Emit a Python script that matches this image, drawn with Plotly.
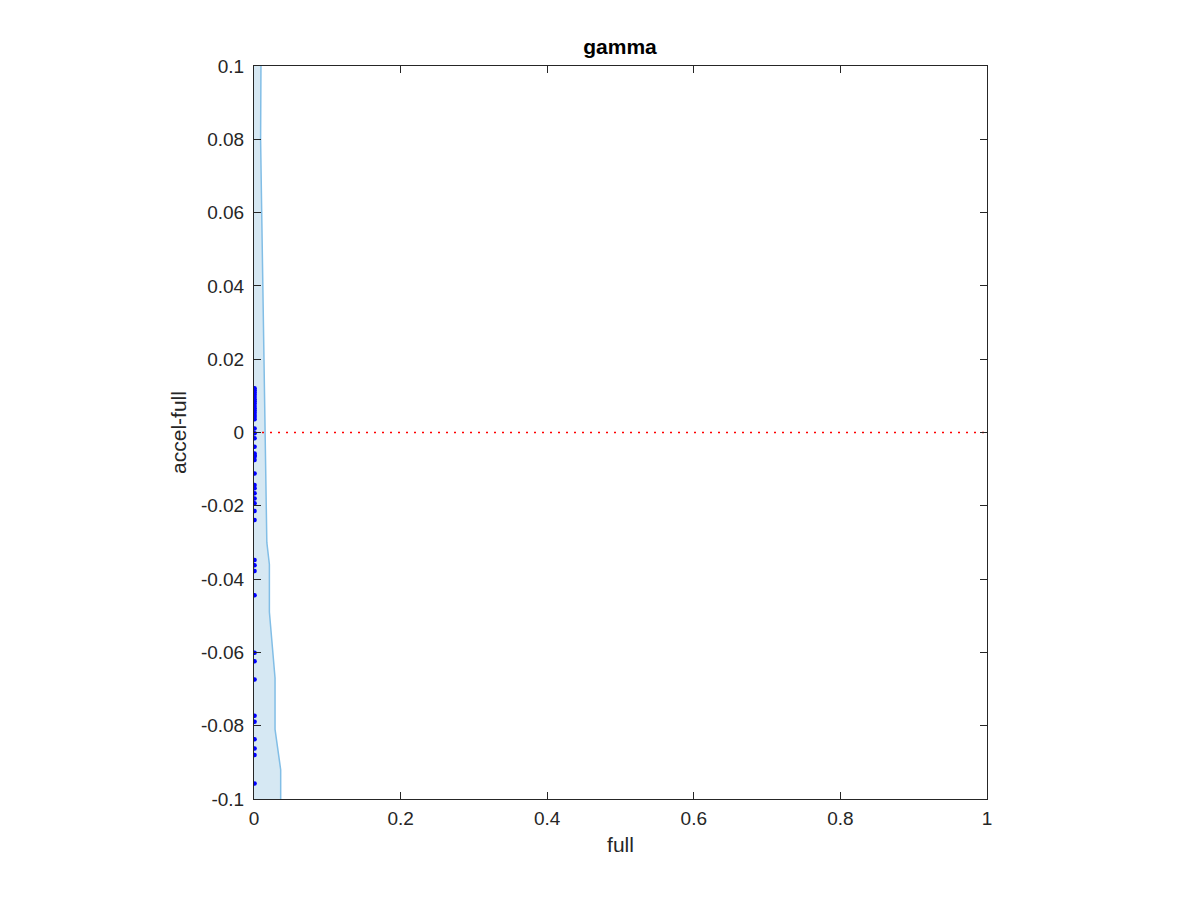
import plotly.graph_objects as go

# Shaded envelope boundary (x extent at given y)
env_y = [0.1, 0.08, 0.06, 0.04, 0.02, 0.0, -0.03, -0.036, -0.049, -0.067, -0.081, -0.092, -0.1]
env_x = [0.0095, 0.009, 0.0105, 0.012, 0.014, 0.016, 0.0175, 0.021, 0.021, 0.0287, 0.0287, 0.0364, 0.0364]

# Scatter points (full, accel-full)
pts_y = [0.0121, 0.0115, 0.0109, 0.0103, 0.0097, 0.0091, 0.0085, 0.0079, 0.0072, 0.0066,
         0.0060, 0.0054, 0.0048, 0.0042, 0.0036, 0.0011, -0.0002, -0.0016, -0.0039, -0.0057,
         -0.0062, -0.0066, -0.0075, -0.0112, -0.0143, -0.0152, -0.0166, -0.018, -0.0193,
         -0.0214, -0.0239, -0.0348, -0.0362, -0.0378, -0.0444, -0.0601, -0.0624, -0.0674,
         -0.0773, -0.0789, -0.0837, -0.0862, -0.088, -0.0958]
pts_x = [0.0008] * len(pts_y)

x_ticks = [0, 0.2, 0.4, 0.6, 0.8, 1]
x_ticktext = ["0", "0.2", "0.4", "0.6", "0.8", "1"]
y_ticks = [-0.1, -0.08, -0.06, -0.04, -0.02, 0, 0.02, 0.04, 0.06, 0.08, 0.1]
y_ticktext = ["-0.1", "-0.08", "-0.06", "-0.04", "-0.02", "0", "0.02", "0.04", "0.06", "0.08", "0.1"]

ref_x = [0, 1]
ref_y = [0, 0]

fig = go.Figure()
fig.add_trace(go.Scatter(x=env_x, y=env_y, mode="lines", fill="tozerox",
                         fillcolor="rgb(214,232,243)",
                         line=dict(color="rgb(130,190,230)", width=1.5),
                         hoverinfo="skip", showlegend=False))
fig.add_trace(go.Scatter(x=ref_x, y=ref_y, mode="lines",
                         line=dict(color="red", width=1.5, dash="2px,6px"),
                         showlegend=False))
fig.add_trace(go.Scatter(x=pts_x, y=pts_y, mode="markers",
                         marker=dict(color="blue", size=4.5),
                         showlegend=False))

axis_common = dict(showgrid=False, zeroline=False, showline=True, linecolor="#262626",
                   linewidth=1, mirror="ticks", ticks="inside", ticklen=7,
                   tickcolor="#262626", tickfont=dict(size=19, color="#262626"))

fig.update_layout(
    width=1200, height=900,
    margin=dict(l=246, r=221, t=58, b=109),
    paper_bgcolor="white", plot_bgcolor="white",
    font=dict(family="Liberation Sans, Arial, sans-serif", color="#262626"),
    title=dict(text="<b>gamma</b>", x=0.51, xanchor="center", y=0.957, yanchor="middle",
               font=dict(size=21, color="black")),
    xaxis=dict(range=[0, 1], tickvals=x_ticks, ticktext=x_ticktext, ticklabelstandoff=2,
               title=dict(text="full", font=dict(size=21, color="#262626"), standoff=9),
               **axis_common),
    yaxis=dict(range=[-0.1, 0.1], tickvals=y_ticks, ticktext=y_ticktext, ticklabelstandoff=5,
               title=dict(text="accel-full", font=dict(size=21, color="#262626"), standoff=8),
               **axis_common),
)

fig.write_html("out.html")
